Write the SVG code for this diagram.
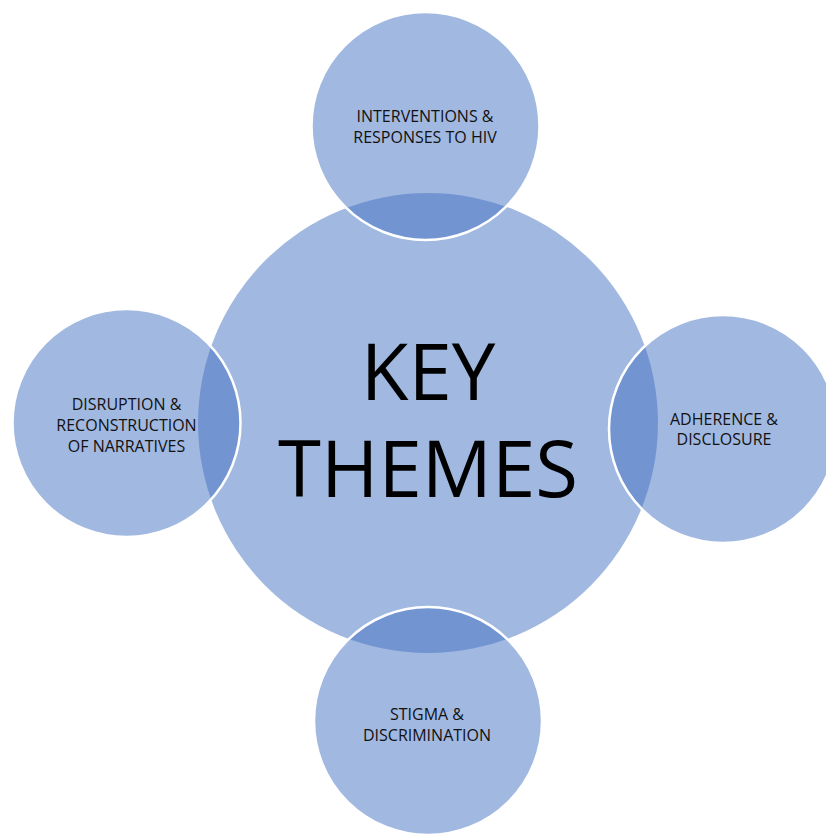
<svg xmlns="http://www.w3.org/2000/svg" width="826" height="834" viewBox="0 0 826 834">
  <style>
    .hub { fill: #4472C4; fill-opacity: 0.5; }
    .spoke { fill: #4472C4; fill-opacity: 0.5; stroke: #FFFFFF; stroke-width: 2.5; }
    .label { font-family: "Open Sans", "Liberation Sans", sans-serif; font-size: 16px; fill: #111111; text-anchor: middle; }
    .title { font-family: "Open Sans", "Liberation Sans", sans-serif; font-size: 78px; fill: #000000; text-anchor: middle; }
  </style>
  <rect width="826" height="834" fill="#FFFFFF"/>

  <!-- central hub -->
  <g id="key-themes">
    <circle class="hub" cx="428" cy="423" r="230"/>
    <text class="title" x="428" y="400">KEY</text>
    <text class="title" x="428" y="497">THEMES</text>
  </g>

  <!-- surrounding themes -->
  <g id="interventions">
    <circle class="spoke" cx="425.5" cy="126" r="114"/>
    <text class="label" x="425" y="122">INTERVENTIONS &amp;</text>
    <text class="label" x="425" y="142.5">RESPONSES TO HIV</text>
  </g>

  <g id="disruption">
    <circle class="spoke" cx="126.5" cy="423" r="114"/>
    <text class="label" x="126.5" y="410">DISRUPTION &amp;</text>
    <text class="label" x="126.5" y="431">RECONSTRUCTION</text>
    <text class="label" x="126.5" y="451.5">OF NARRATIVES</text>
  </g>

  <g id="adherence">
    <circle class="spoke" cx="723" cy="429" r="114"/>
    <text class="label" x="724" y="424.5">ADHERENCE &amp;</text>
    <text class="label" x="724" y="445">DISCLOSURE</text>
  </g>

  <g id="stigma">
    <circle class="spoke" cx="428" cy="721" r="114"/>
    <text class="label" x="427" y="720">STIGMA &amp;</text>
    <text class="label" x="427" y="740.5">DISCRIMINATION</text>
  </g>
</svg>
